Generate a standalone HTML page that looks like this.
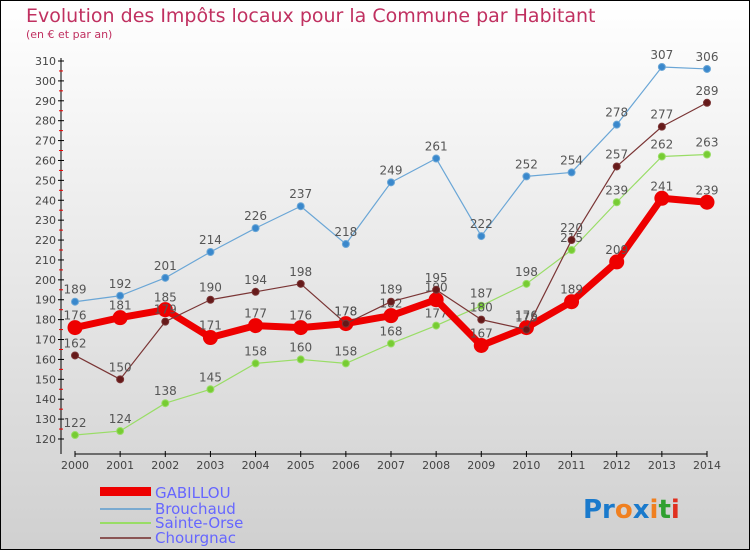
<!DOCTYPE html>
<html><head><meta charset="utf-8"><style>
body{margin:0}
#c{width:750px;height:550px;position:relative;box-sizing:border-box;border:1px solid #000;background:linear-gradient(#fff,#d0d0d0);font-family:"DejaVu Sans","Liberation Sans",sans-serif;overflow:hidden}
</style></head><body>
<div id="c">
<svg id="s" width="750" height="550" style="position:absolute;left:-1px;top:-1px">
<text x="26" y="22" font-size="19" fill="#c03060">Evolution des Impôts locaux pour la Commune par Habitant</text>
<text x="26" y="38" font-size="11" fill="#c03060">(en € et par an)</text>
<g id="axes"></g><g id="series"></g>
<g font-size="15" fill="#6666ff">
<rect x="100" y="487" width="51" height="9" fill="#e00"/>
<text x="155" y="498">GABILLOU</text>
<rect x="100" y="508" width="51" height="2" fill="#7aaad0"/>
<text x="155" y="514">Brouchaud</text>
<rect x="100" y="522" width="51" height="2" fill="#99dd66"/>
<text x="155" y="528">Sainte-Orse</text>
<rect x="100" y="537" width="51" height="2" fill="#8a5555"/>
<text x="155" y="543">Chourgnac</text>
</g>
<text x="583" y="518" font-size="26" font-weight="bold"><tspan fill="#1a7acc">Pr</tspan><tspan fill="#f08020">o</tspan><tspan fill="#1a7acc">x</tspan><tspan fill="#f08020">i</tspan><tspan fill="#30a030">t</tspan><tspan fill="#e03020">i</tspan></text>
</svg>
</div>
<script>
const years=[2000,2001,2002,2003,2004,2005,2006,2007,2008,2009,2010,2011,2012,2013,2014];
const gabillou=[176,181,185,171,177,176,178,182,190,167,176,189,209,241,239];
const brouchaud=[189,192,201,214,226,237,218,249,261,222,252,254,278,307,306];
const sainteOrse=[122,124,138,145,158,160,158,168,177,187,198,215,239,262,263];
const chourgnac=[162,150,179,190,194,198,178,189,195,180,175,220,257,277,289];
const yTicks=[120,130,140,150,160,170,180,190,200,210,220,230,240,250,260,270,280,290,300,310];
const NS="http://www.w3.org/2000/svg";
const x=i=>75+i*(707-75)/(years.length-1);
const y=v=>439-(v-120)*(439-61)/190;
function mk(t,a,p){const e=document.createElementNS(NS,t);for(const k in a)e.setAttribute(k,a[k]);p.appendChild(e);return e;}
const ax=document.getElementById('axes');
const yl=mk('line',{x1:61,y1:58,x2:61,y2:454,stroke:'#000'},ax);


const xl=mk('line',{x1:75,y1:454,x2:707,y2:454,stroke:'#000'},ax);


yTicks.forEach(v=>{
 mk('line',{x1:58,x2:64,y1:y(v),y2:y(v),stroke:'#000'},ax);
 if(v<310)mk('line',{x1:59,x2:63,y1:y(v+5),y2:y(v+5),stroke:'#e00'},ax);
 const t=mk('text',{x:56,y:y(v)+4,'font-size':11,fill:'#444','text-anchor':'end'},ax);t.textContent=v;
 
 
});
years.forEach((yr,i)=>{
 mk('line',{x1:x(i),x2:x(i),y1:451,y2:457,stroke:'#000'},ax);
 const t=mk('text',{x:x(i),y:469,'font-size':11,fill:'#444','text-anchor':'middle'},ax);t.textContent=yr;
 
 
});
const sg=document.getElementById('series');
function draw(data,name,color,w,r,dot){
 const g=mk('g',{},sg);
 
 
 mk('polyline',{points:data.map((v,i)=>x(i)+','+y(v)).join(' '),fill:'none',stroke:color,'stroke-width':w,'stroke-linejoin':'round'},g);
 data.forEach((v,i)=>{
  const c=mk('circle',{cx:x(i),cy:y(v),r:r,fill:dot,stroke:color,'stroke-width':1},g);
  
  
  const t=mk('text',{x:x(i),y:y(v)-8,'font-size':12,fill:'#555','text-anchor':'middle'},g);t.textContent=v;
  
  
 });
}
draw(sainteOrse,'sainte-orse','#99dd66',1.2,3.5,'#77cc33');
draw(brouchaud,'brouchaud','#6aa6d6',1.2,3.5,'#3a88cc');
draw(gabillou,'gabillou','#ee0000',7,7,'#ee0000');
draw(chourgnac,'chourgnac','#7a3535',1.2,3.5,'#661a1a');
</script>
</body></html>
